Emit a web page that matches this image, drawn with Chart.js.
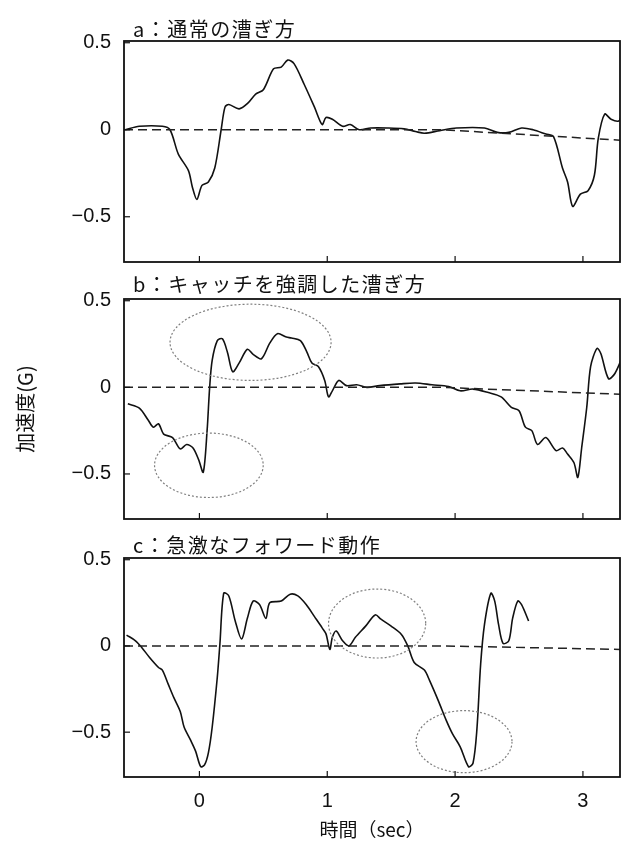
<!DOCTYPE html>
<html><head><meta charset="utf-8">
<script src="https://cdn.jsdelivr.net/npm/chart.js@4/dist/chart.umd.min.js"></script>
<style>
html,body{margin:0;padding:0;background:#fff;width:629px;height:851px;overflow:hidden}
canvas{position:absolute;left:0;top:0}
</style></head><body>
<canvas id="pa" width="629" height="851"></canvas>
<canvas id="pb" width="629" height="851"></canvas>
<canvas id="pc" width="629" height="851"></canvas>
<script>
// ---- data ----
const xTickValues = [0, 1, 2, 3];
const yTickValues = [-0.5, 0, 0.5];
const panelTitles = ['a：通常の漕ぎ方', 'b：キャッチを強調した漕ぎ方', 'c：急激なフォワード動作'];
const yAxisTitle = '加速度(G)';
const xAxisTitle = '時間（sec）';

const aTime = [-0.58,-0.47,-0.29,-0.23,-0.165,-0.086,-0.055,-0.02,0.02,0.07,0.12,0.17,0.2,0.23,0.31,0.375,0.44,0.5,0.58,0.64,0.69,0.74,0.82,0.9,0.96,0.99,1.04,1.12,1.18,1.25,1.34,1.47,1.6,1.69,1.76,1.88,2.01,2.23,2.33,2.42,2.52,2.61,2.71,2.77,2.84,2.88,2.92,2.98,3.04,3.09,3.12,3.17,3.22,3.28,3.3];
const aAccel = [0,0.02,0.02,0,-0.14,-0.235,-0.33,-0.40,-0.32,-0.30,-0.22,0,0.13,0.145,0.12,0.15,0.205,0.23,0.35,0.36,0.40,0.38,0.26,0.13,0.03,0.07,0.06,0.02,0.03,0,0.01,0.01,0.005,-0.01,-0.02,-0.005,0.01,0.01,-0.015,-0.015,0.01,0,-0.025,-0.04,-0.22,-0.30,-0.44,-0.37,-0.35,-0.26,-0.05,0.09,0.06,0.05,0.08];

const bTime = [-0.56,-0.47,-0.40,-0.36,-0.32,-0.28,-0.21,-0.15,-0.10,-0.05,-0.005,0.03,0.06,0.08,0.10,0.14,0.18,0.22,0.26,0.31,0.375,0.42,0.485,0.55,0.61,0.68,0.72,0.79,0.84,0.88,0.93,0.98,1.01,1.04,1.09,1.15,1.23,1.31,1.41,1.57,1.69,1.82,1.95,2.04,2.14,2.26,2.36,2.44,2.5,2.55,2.60,2.645,2.71,2.79,2.84,2.88,2.93,2.96,2.99,3.03,3.06,3.11,3.14,3.20,3.25,3.33];
const bAccel = [-0.095,-0.12,-0.19,-0.23,-0.21,-0.27,-0.29,-0.355,-0.33,-0.35,-0.42,-0.49,-0.25,0,0.157,0.27,0.28,0.20,0.09,0.14,0.22,0.19,0.165,0.255,0.31,0.29,0.285,0.27,0.205,0.14,0.12,0.04,-0.055,-0.02,0.04,0.01,0.015,0,0.01,0.02,0.025,0.015,0.005,-0.02,-0.01,-0.03,-0.055,-0.115,-0.135,-0.23,-0.25,-0.33,-0.29,-0.365,-0.35,-0.385,-0.435,-0.52,-0.35,-0.115,0.12,0.225,0.195,0.05,0.08,0.215];

const cTime = [-0.57,-0.5,-0.45,-0.39,-0.32,-0.29,-0.245,-0.2,-0.15,-0.12,-0.07,-0.03,0.01,0.04,0.07,0.10,0.14,0.16,0.19,0.23,0.28,0.33,0.375,0.42,0.47,0.52,0.55,0.64,0.71,0.77,0.835,0.9,0.96,0.99,1.02,1.04,1.07,1.12,1.17,1.22,1.30,1.375,1.42,1.50,1.58,1.63,1.68,1.76,1.80,1.87,1.93,1.98,2.04,2.105,2.14,2.17,2.20,2.23,2.28,2.31,2.34,2.375,2.42,2.45,2.49,2.52,2.575];
const cAccel = [0.063,0.03,-0.01,-0.067,-0.125,-0.14,-0.22,-0.30,-0.38,-0.47,-0.545,-0.61,-0.70,-0.69,-0.62,-0.47,-0.18,0.01,0.306,0.29,0.145,0.04,0.16,0.26,0.24,0.16,0.25,0.26,0.30,0.29,0.24,0.17,0.105,0.07,-0.02,0.05,0.086,0.03,0.0,0.05,0.115,0.18,0.155,0.115,0.067,0.0,-0.096,-0.14,-0.20,-0.32,-0.43,-0.51,-0.585,-0.70,-0.68,-0.49,-0.105,0.125,0.306,0.26,0.125,0.015,0.03,0.16,0.26,0.24,0.145];

// zero reference (dashed) lines
const baseTime = [-0.59, 1.9, 3.29];
const aBase = [0, 0, -0.06];
const bBase = [0, 0, -0.04];
const cBase = [0, 0, -0.02];

// highlighted regions: [centre time, centre accel, half-width (sec), half-height (G)]
const aEllipses = [];
const bEllipses = [[0.40, 0.26, 0.63, 0.22], [0.074, -0.45, 0.425, 0.186]];
const cEllipses = [[1.39, 0.13, 0.38, 0.20], [2.07, -0.555, 0.375, 0.18]];

// ---- drawing ----
const FONT = "'Liberation Sans', 'Noto Sans CJK JP', sans-serif";
const CJK = "'Noto Sans CJK JP', 'Liberation Sans', sans-serif";

const framePlugin = {
  id: 'frame',
  afterDatasetsDraw(chart, args, opts) {
    const {ctx, chartArea: a} = chart;
    const x = chart.scales.x, y = chart.scales.y;
    ctx.save();
    ctx.strokeStyle = '#808080'; ctx.lineWidth = 1.2; ctx.setLineDash([2, 2]);
    (opts.ellipses || []).forEach(e => {
      const cx = x.getPixelForValue(e[0]), cy = y.getPixelForValue(e[1]);
      const rx = Math.abs(x.getPixelForValue(e[0] + e[2]) - cx);
      const ry = Math.abs(y.getPixelForValue(e[1] + e[3]) - cy);
      ctx.beginPath(); ctx.ellipse(cx, cy, rx, ry, 0, 0, Math.PI * 2); ctx.stroke();
    });
    ctx.setLineDash([]);
    ctx.strokeStyle = '#111'; ctx.lineWidth = 1.8;
    ctx.strokeRect(a.left, a.top, a.right - a.left, a.bottom - a.top);
    ctx.lineWidth = 1.2;
    xTickValues.forEach(v => {
      const px = x.getPixelForValue(v);
      ctx.beginPath(); ctx.moveTo(px, a.bottom); ctx.lineTo(px, a.bottom - 6); ctx.stroke();
    });
    yTickValues.forEach(v => {
      const py = y.getPixelForValue(v);
      ctx.beginPath(); ctx.moveTo(a.left, py); ctx.lineTo(a.left + 6, py); ctx.stroke();
    });
    ctx.font = '20px ' + CJK; ctx.fillStyle = '#111'; ctx.textBaseline = 'middle'; ctx.textAlign = 'left';
    try { ctx.letterSpacing = '1.5px'; } catch (e) {}
    ctx.fillText(opts.title, a.left + 9, a.top - opts.titleGap);
    ctx.restore();
  }
};

function makePanel(id, time, accel, base, ellipses, title, titleGap, pad, showX, showYTitle) {
  const pts = time.map((t, i) => ({x: t, y: accel[i]}));
  const basePts = baseTime.map((t, i) => ({x: t, y: base[i]}));
  return new Chart(document.getElementById(id), {
    type: 'line',
    data: {datasets: [
      {data: basePts, borderColor: '#222', borderWidth: 1.5, borderDash: [9, 5], pointRadius: 0, tension: 0},
      {data: pts, borderColor: '#111', borderWidth: 1.6, pointRadius: 0, tension: 0.3}
    ]},
    options: {
      responsive: false, animation: false, devicePixelRatio: 1,
      layout: {padding: pad},
      plugins: {legend: {display: false}, tooltip: {enabled: false},
        frame: {ellipses: ellipses, title: title, titleGap: titleGap}},
      scales: {
        x: {type: 'linear', min: -0.59, max: 3.29, display: showX,
          afterBuildTicks: s => { s.ticks = xTickValues.map(v => ({value: v})); },
          afterFit: s => { if (showX) s.height = 74; },
          grid: {display: false, drawTicks: false}, border: {display: false},
          ticks: {padding: 12, color: '#111', font: {family: FONT, size: 20}, maxRotation: 0, autoSkip: false,
            callback: v => String(v)},
          title: {display: true, text: xAxisTitle, color: '#111', font: {family: CJK, size: 19}, padding: {top: 0, bottom: 10}}
        },
        y: {type: 'linear', min: -0.76, max: 0.51,
          afterBuildTicks: s => { s.ticks = yTickValues.map(v => ({value: v})); },
          afterFit: s => { s.width = 124; },
          grid: {display: false, drawTicks: false}, border: {display: false},
          ticks: {padding: 13, color: '#111', font: {family: FONT, size: 20},
            callback: v => v < 0 ? '\u2212' + String(Math.abs(v)) : String(v)},
          title: {display: showYTitle, text: yAxisTitle, color: '#111', font: {family: CJK, size: 20}, padding: {top: 13, bottom: 0}}
        }
      }
    },
    plugins: [framePlugin]
  });
}

makePanel('pa', aTime, aAccel, aBase, aEllipses, panelTitles[0], 12, {top: 41, bottom: 589, left: 0, right: 9}, false, false);
makePanel('pb', bTime, bAccel, bBase, bEllipses, panelTitles[1], 15, {top: 299, bottom: 332, left: 0, right: 9}, false, true);
makePanel('pc', cTime, cAccel, cBase, cEllipses, panelTitles[2], 13, {top: 558, bottom: 0, left: 0, right: 9}, true, false);
</script>
</body></html>
